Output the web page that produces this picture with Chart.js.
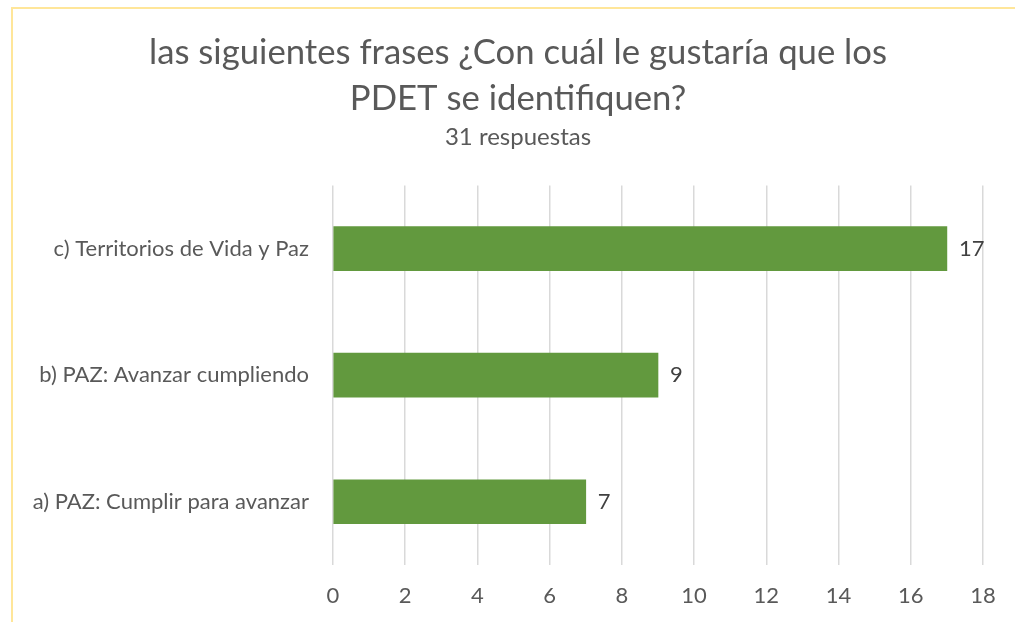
<!DOCTYPE html>
<html>
<head>
<meta charset="utf-8">
<script src="https://cdn.jsdelivr.net/npm/chart.js@4"></script>
<style>
  html, body { margin: 0; padding: 0; background: #ffffff; overflow: hidden; }
  #frame { position: absolute; left: 11px; top: 7px; width: 2000px; height: 2000px; border: 2px solid #FFE699; box-sizing: border-box; }
  #wrap { position: absolute; left: 0; top: 0; width: 1015px; height: 622px; }
</style>
</head>
<body>
<div id="frame"></div>
<div id="wrap"><canvas id="c" width="1015" height="622"></canvas></div>
<script>
const titleLines = ["las siguientes frases ¿Con cuál le gustaría que los", "PDET se identifiquen?"];
const subtitleText = "31 respuestas";
const categories = ["c) Territorios de Vida y Paz", "b) PAZ: Avanzar cumpliendo", "a) PAZ: Cumplir para avanzar"];
const values = [17, 9, 7];
const xTickMax = 18;
const xTickStep = 2;

const FONT = "Lato, 'Open Sans', sans-serif";
const TEXT = "#595959";

const valueLabels = {
  id: 'valueLabels',
  afterDatasetsDraw(chart) {
    const ctx = chart.ctx;
    ctx.save();
    ctx.font = "22px " + FONT;
    ctx.fillStyle = "#404040";
    ctx.textAlign = "left";
    ctx.textBaseline = "middle";
    chart.getDatasetMeta(0).data.forEach((bar, i) => {
      ctx.fillText(String(chart.data.datasets[0].data[i]), bar.x + 12, bar.y);
    });
    ctx.restore();
  }
};

// shift the title / subtitle boxes so their centre sits at the reference position
const titleCentre = {
  id: 'titleCentre',
  afterLayout(chart) {
    chart.boxes.forEach(b => {
      if (b.position === 'top' && b.options && b.options.text !== undefined) {
        b.left = 53;
        b.right = 983;
      }
    });
  }
};

new Chart(document.getElementById('c'), {
  type: 'bar',
  data: {
    labels: categories,
    datasets: [{
      data: values,
      backgroundColor: '#62993E',
      borderWidth: 0,
      barThickness: 44
    }]
  },
  options: {
    indexAxis: 'y',
    responsive: false,
    animation: false,
    layout: { padding: { left: 0, right: 32, top: 0, bottom: 0 } },
    plugins: {
      legend: { display: false },
      tooltip: { enabled: false },
      title: {
        display: true,
        text: titleLines,
        color: TEXT,
        font: { family: FONT, size: 34.7, weight: 'normal', lineHeight: 1.32 },
        padding: { top: 30, bottom: 0 }
      },
      subtitle: {
        display: true,
        text: subtitleText,
        color: TEXT,
        font: { family: FONT, size: 24, weight: 'normal', lineHeight: 1.2 },
        padding: { top: 1, bottom: 34 }
      }
    },
    scales: {
      x: {
        min: 0,
        max: xTickMax,
        ticks: { stepSize: xTickStep, color: TEXT, font: { family: FONT, size: 22 }, padding: 18 },
        grid: { color: '#D9D9D9', lineWidth: 1.5, drawTicks: false, tickLength: 0 },
        border: { display: false },
        afterFit(scale) { scale.height = 57; }
      },
      y: {
        ticks: { color: TEXT, font: { family: FONT, size: 22 }, padding: 24 },
        grid: { display: false, drawTicks: false },
        border: { display: false },
        afterFit(scale) { scale.width = 333; }
      }
    }
  },
  plugins: [valueLabels, titleCentre]
});
</script>
</body>
</html>
